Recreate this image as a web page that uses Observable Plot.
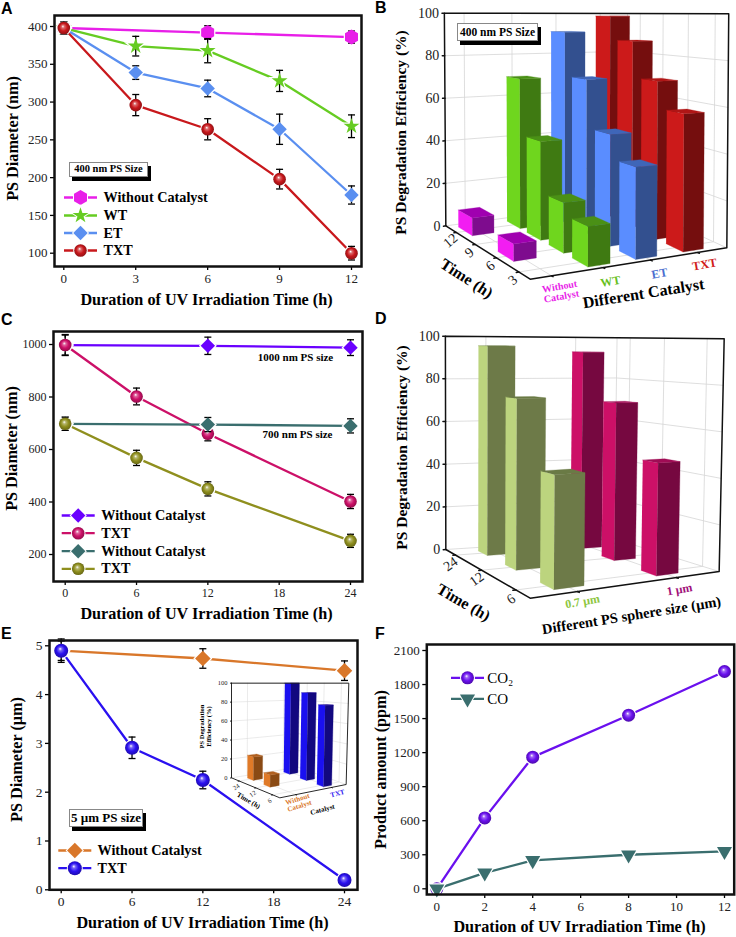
<!DOCTYPE html>
<html><head><meta charset="utf-8">
<script src="https://cdn.jsdelivr.net/npm/d3@7"></script>
<script src="https://cdn.jsdelivr.net/npm/@observablehq/plot@0.6"></script>
<style>
html,body{margin:0;padding:0;background:#fff}
#page{position:relative;width:736px;height:937px;overflow:hidden}
#page svg{position:absolute}
.tag{position:absolute;box-sizing:border-box;background:#fff;border:1px solid #888;color:#000;
 font-family:"Liberation Serif",serif;font-weight:bold;text-align:center;white-space:nowrap;box-shadow:3px 4px 0 #000}
</style></head><body><div id="page"></div>
<script>
// ---------- Panel A data ----------
const aTicksX=[0,3,6,9,12], aTicksY=[100,150,200,250,300,350,400];
const aHoursWithout=[0,6,12], aWithout=[398,392,386], aWithoutErr=[8,9,8];
const aHours=[0,3,6,9,12];
const aWT=[398,374,368,328,268], aWTErr=[8,13,16,14,15];
const aET=[398,339,318,264,177], aETErr=[8,9,11,20,12];
const aTXT=[398,296,264,198,100], aTXTErr=[8,14,14,13,9];
// ---------- Panel C data ----------
const cTicksX=[0,6,12,18,24], cTicksY=[200,400,600,800,1000];
const cHoursWithout=[0,12,24], cHoursTXT=[0,6,12,24];
const c1000Without=[998,995,988], c1000WithoutErr=[38,33,30];
const c1000TXT=[998,802,660,402], c1000TXTErr=[40,32,27,27];
const c700Without=[698,695,690], c700WithoutErr=[25,27,27];
const c700TXT=[698,568,450,252], c700TXTErr=[25,29,27,25];
// ---------- Panel E data ----------
const eTicksX=[0,6,12,18,24], eTicksY=[0,1,2,3,4,5];
const eHoursWithout=[0,12,24], eHoursTXT=[0,6,12,24];
const eWithout=[4.9,4.74,4.49], eWithoutErr=[0.2,0.2,0.2];
const eTXT=[4.9,2.91,2.25,0.2], eTXTErr=[0.24,0.22,0.18,0.1];
// ---------- Panel F data ----------
const fTicksX=[0,2,4,6,8,10,12], fTicksY=[0,300,600,900,1200,1500,1800,2100];
const fHours=[0,2,4,8,12];
const fCO2=[0,625,1160,1530,1915], fCO=[0,140,250,300,330];
// ---------- Panel B data ----------
const bCatalysts=["Without Catalyst","WT","ET","TXT"], bTimes=[3,6,9,12];
const bWithout=[null,7,null,8], bWT=[16,21,43.5,69.5], bET=[37.6,48,70,91], bTXT=[58,70,87,98.7];
// ---------- Panel D data ----------
const dSizes=["0.7 µm","1 µm"], dTimes=[6,12,24];
const d07=[45.5,73.6,95.7], d1=[47.5,70.7,93];
// ---------- Inset data ----------
const iCatalysts=["Without Catalyst","TXT"], iTimes=[6,12,24];
const iWithout=[null,11.6,24], iTXT=[78.6,90,100];
const pctTicks=[0,20,40,60,80,100];

const page=document.getElementById("page");
const serif='"Liberation Serif",serif', sans='"Liberation Sans",sans-serif';
const titleTime="Duration of UV Irradiation Time (h)";

// sphere gradients
const spheres={red:"#c8181c",pink:"#cc1068",olive:"#8f8f1e",blue:"#2a10f0",purple:"#6a10ee"};
const defsSvg=d3.create("svg").attr("width",0).attr("height",0);
const defs=defsSvg.append("defs");
for(const [k,c] of Object.entries(spheres)){
  const g=defs.append("radialGradient").attr("id","s-"+k).attr("cx",.5).attr("cy",.5).attr("r",.55).attr("fx",.42).attr("fy",.36);
  g.append("stop").attr("offset",0).attr("stop-color","#fff");
  g.append("stop").attr("offset",.22).attr("stop-color",d3.interpolateRgb(c,"#fff")(.35));
  g.append("stop").attr("offset",.55).attr("stop-color",c);
  g.append("stop").attr("offset",1).attr("stop-color",d3.rgb(c).darker(1.1).formatHex());
}
page.append(defsSvg.node());

const cap={draw(c){c.moveTo(-3.5,0);c.lineTo(3.5,0);}};
const dash={draw(c){c.moveTo(-16.5,0);c.lineTo(16.5,0);}};
const rows=(xs,ys,es)=>xs.map((x,i)=>({x,y:ys[i],e:es?es[i]:0}));
const sph=k=>({color:spheres[k],fill:`url(#s-${k})`,symbol:"circle",r:6.3});
const flat=(color,symbol,r,rotate)=>({color,fill:color,symbol,r,rotate});

function txtAt(ox,oy){
  return (s,px,py,o={})=>Plot.text([s],{frameAnchor:"top-left",dx:px-ox,dy:py-oy,lineAnchor:"middle",textAnchor:"middle",fontFamily:serif,fill:"#000",...o});
}
const dotOpts=s=>({symbol:s.symbol,r:s.r,rotate:s.rotate||0});

function linePanel({box,frame,xCal,yCal,xTicks,yTicks,series,legend,fontSize,extras,titles,legendFont}){
  const ml=frame.l-box.left, mt=frame.t-box.top, mr=box.left+box.width-frame.r, mb=box.top+box.height-frame.b;
  const sx=d3.scaleLinear([xCal[1],xCal[3]],[xCal[0],xCal[2]]);
  const sy=d3.scaleLinear([yCal[1],yCal[3]],[yCal[0],yCal[2]]);
  const ox=frame.l, oy=frame.t, T=txtAt(ox,oy);
  const marks=[];
  marks.push(Plot.axisX({ticks:xTicks,tickSize:4,tickPadding:3,label:null,tickFormat:d=>String(d),fontSize,fill:"#222",strokeWidth:1.3}));
  marks.push(Plot.axisY({ticks:yTicks,tickSize:4,tickPadding:3,label:null,tickFormat:d=>String(d),fontSize,fill:"#222",strokeWidth:1.3}));
  for(const s of series){
    marks.push(Plot.line(s.data,{x:"x",y:"y",stroke:s.style.color,strokeWidth:2.3}));
    marks.push(Plot.dot(s.data,{x:"x",y:"y",...dotOpts(s.style),fill:"#fff",stroke:"#fff",strokeWidth:2.5}));
    const err=s.data.filter(d=>d.e>0);
    marks.push(Plot.ruleX(err,{x:"x",y1:d=>d.y-d.e,y2:d=>d.y+d.e,stroke:"#000",strokeWidth:1.3}));
    marks.push(Plot.dot(err,{x:"x",y:d=>d.y-d.e,symbol:cap,r:1,stroke:"#000",strokeWidth:1.3,fill:"none"}));
    marks.push(Plot.dot(err,{x:"x",y:d=>d.y+d.e,symbol:cap,r:1,stroke:"#000",strokeWidth:1.3,fill:"none"}));
    marks.push(Plot.dot(s.data,{x:"x",y:"y",...dotOpts(s.style),fill:s.style.fill,stroke:"none"}));
  }
  for(const L of legend.rows){
    const anch={frameAnchor:"top-left",dx:legend.x-ox,dy:L.y-oy};
    marks.push(Plot.dot([0],{...anch,symbol:dash,r:1,stroke:L.style.color,strokeWidth:2.3,fill:"none"}));
    marks.push(Plot.dot([0],{...anch,...dotOpts(L.style),fill:"#fff",stroke:"#fff",strokeWidth:2}));
    marks.push(Plot.dot([0],{...anch,...dotOpts(L.style),fill:L.style.fill,stroke:"none"}));
    marks.push(T(L.name,legend.tx,L.y,{textAnchor:"start",fontWeight:legendFont?.weight||"bold",fontSize:legendFont?.size||14.2}));
  }
  marks.push(Plot.frame({stroke:"#111",strokeWidth:2.5}));
  for(const t of titles) marks.push(T(...t));
  for(const e of extras||[]) marks.push(T(...e));
  const svg=Plot.plot({width:box.width,height:box.height,marginLeft:ml,marginRight:mr,marginTop:mt,marginBottom:mb,
    x:{domain:[sx(frame.l),sx(frame.r)],axis:null},y:{domain:[sy(frame.b),sy(frame.t)],axis:null},
    style:{background:"transparent",overflow:"visible",fontFamily:serif,fontSize:fontSize+"px",color:"#000"},marks});
  svg.style.left=box.left+"px";svg.style.top=box.top+"px";
  page.append(svg);
}

function projection(view){
  const [F,R,B,L]=view.floor;
  const dx1=R[0]-B[0],dx2=L[0]-B[0],sx=F[0]-R[0]+B[0]-L[0],dy1=R[1]-B[1],dy2=L[1]-B[1],sy=F[1]-R[1]+B[1]-L[1];
  const den=dx1*dy2-dx2*dy1, g=(sx*dy2-dx2*sy)/den, h=(dx1*sy-sx*dy1)/den;
  const a=R[0]-F[0]+g*R[0],b=L[0]-F[0]+h*L[0],c=F[0],d=R[1]-F[1]+g*R[1],e=L[1]-F[1]+h*L[1],f=F[1];
  const [hx0,hy0,hx1,hy1]=view.horizon;
  return (u,w,v)=>{
    const q=g*u+h*w+1, x0=(a*u+b*w+c)/q, y0=(d*u+e*w+f)/q;
    const yt=hy0+(hy1-hy0)*(x0-hx0)/(hx1-hx0);
    return {x:x0+(x0-view.cx)*view.k*v/100,y:y0+(yt-y0)*v/100};
  };
}

function threeD({box,view,uC,wC,du,dw,series,times,fontSize,gridW,edgeW,timeRot,tickLen,labelOff,labelDx,labelDy,titles}){
  const P=projection(view), polys=[], grid=[], edges=[];
  const add=(arr,id,pts,extra={})=>pts.forEach(p=>arr.push({id,...P(...p),...extra}));
  series.map((s,i)=>[s,i]).reverse().forEach(([s,i])=>{
    const idx=d3.range(times.length).reverse();
    idx.forEach(j=>{
      const v=s.values[j]; if(v==null) return;
      const dws=s.dw||dw;
      const u0=uC[i]-du/2,u1=uC[i]+du/2,w0=wC[j]-dws/2,w1=wC[j]+dws/2;
      add(polys,`${i}-${j}-side`,[[u0,w1,0],[u0,w0,0],[u0,w0,v],[u0,w1,v]],{c:s.light});
      add(polys,`${i}-${j}-front`,[[u0,w0,0],[u1,w0,0],[u1,w0,v],[u0,w0,v]],{c:s.dark});
      add(polys,`${i}-${j}-top`,[[u0,w0,v],[u1,w0,v],[u1,w1,v],[u0,w1,v]],{c:s.top});
    });
  });
  pctTicks.slice(1).forEach(v=>{
    add(grid,"wb"+v,[[0,1,v],[1,1,v],[1,0,v]]);
  });
  uC.forEach((u,i)=>{add(grid,"fu"+i,[[u,0,0],[u,1,0],[u,1,100]]);});
  wC.forEach((w,i)=>{add(grid,"fw"+i,[[0,w,0],[1,w,0],[1,w,100]]);});
  add(grid,"back",[[1,1,0],[1,1,100]]);
  add(grid,"bf",[[0,1,0],[1,1,0],[1,0,0]]);
  add(edges,"e1",[[0,1,100],[0,1,0],[0,0,0],[1,0,0],[1,0,100],[1,1,100],[0,1,100]]);
  pctTicks.forEach(v=>add(edges,"tv"+v,[[0,1,v],[-tickLen,1,v]]));
  uC.forEach((u,i)=>add(edges,"tu"+i,[[u,0,0],[u,-tickLen*1.3,0]]));
  wC.forEach((w,i)=>add(edges,"tw"+i,[[0,w,0],[-tickLen,w,0]]));
  const T=txtAt(0,0);
  const plotMarks=[
    Plot.line(grid,{x:"x",y:"y",z:"id",stroke:"#d6d6d6",strokeWidth:gridW}),
    Plot.line(polys,{x:"x",y:"y",z:"id",fill:"c",stroke:"c",strokeWidth:.3}),
    Plot.line(edges,{x:"x",y:"y",z:"id",stroke:"#111",strokeWidth:edgeW}),
    Plot.text(pctTicks,{x:v=>P(-tickLen,1,v).x,y:v=>P(-tickLen,1,v).y,text:v=>v,textAnchor:"end",dx:-3,fontFamily:serif,fontSize,fill:"#222"}),
    Plot.text(times,{x:(t,i)=>P(-labelOff,wC[i],0).x,y:(t,i)=>P(-labelOff,wC[i],0).y,text:t=>t,rotate:timeRot,dx:labelDx,dy:labelDy,fontFamily:serif,fontSize,fill:"#222"}),
    ...titles.map(t=>T(...t))
  ];
  const svg=Plot.plot({width:box.width,height:box.height,margin:0,
    x:{domain:[0,box.width*3],range:[0,box.width],axis:null},y:{domain:[0,box.height*3],range:[0,box.height],axis:null},
    style:{background:"transparent",overflow:"visible",fontFamily:serif,fontSize:fontSize+"px"},marks:plotMarks});
  svg.style.left=box.left+"px";svg.style.top=box.top+"px";
  page.append(svg);
}

function tag(text,left,top,w,h,fs){
  const d=document.createElement("div");d.className="tag";d.textContent=text;
  Object.assign(d.style,{left:left+"px",top:top+"px",width:w+"px",height:h+"px",lineHeight:(h-2)+"px",fontSize:fs+"px"});
  page.append(d);
}
function letter(s,x,y){
  const d=document.createElement("div");d.textContent=s;
  Object.assign(d.style,{position:"absolute",left:x+"px",top:y+"px",font:`bold 16px ${sans}`,lineHeight:"16px",color:"#000"});
  page.append(d);
}
const bold={fontWeight:"bold"};
const T1=16.2;

// ---- A ----
const aS={w:flat("#e81fe8","hexagon",6.5),wt:flat("#66cc22","star",5),et:flat("#5a8ff0","diamond2",6.5),txt:sph("red")};
linePanel({box:{left:0,top:0,width:368,height:305},frame:{l:54,t:15,r:361,b:266},xCal:[0,63.3,12,351],yCal:[400,26,100,252.7],
  xTicks:aTicksX,yTicks:aTicksY,fontSize:13,
  series:[{data:rows(aHoursWithout,aWithout,aWithoutErr),style:aS.w},{data:rows(aHours,aWT,aWTErr),style:aS.wt},{data:rows(aHours,aET,aETErr),style:aS.et},{data:rows(aHours,aTXT,aTXTErr),style:aS.txt}],
  legend:{x:80,tx:103,rows:[{name:"Without Catalyst",style:aS.w,y:197},{name:"WT",style:aS.wt,y:215},{name:"ET",style:aS.et,y:232.5},{name:"TXT",style:aS.txt,y:250}]},
  titles:[[titleTime,206,299,{...bold,fontSize:T1}],["PS Diameter (nm)",12,138,{...bold,fontSize:T1,rotate:-90}]]});
// ---- C ----
const cS={a:flat("#6a00ff","diamond2",6.5),b:sph("pink"),c:flat("#3a6e6e","diamond2",6.5),d:sph("olive")};
linePanel({box:{left:0,top:305,width:368,height:315},frame:{l:53,t:331,r:362,b:581},xCal:[0,64.7,24,350],yCal:[1000,344,200,554],
  xTicks:cTicksX,yTicks:cTicksY,fontSize:12,
  series:[{data:rows(cHoursWithout,c1000Without,c1000WithoutErr),style:cS.a},{data:rows(cHoursTXT,c1000TXT,c1000TXTErr),style:cS.b},{data:rows(cHoursWithout,c700Without,c700WithoutErr),style:cS.c},{data:rows(cHoursTXT,c700TXT,c700TXTErr),style:cS.d}],
  legend:{x:77.7,tx:100.7,rows:[{name:"Without Catalyst",style:cS.a,y:515},{name:"TXT",style:cS.b,y:532.7},{name:"Without Catalyst",style:cS.c,y:550.7},{name:"TXT",style:cS.d,y:568.3}]},
  titles:[[titleTime,206,613,{...bold,fontSize:T1}],["PS Diameter (nm)",11,448,{...bold,fontSize:T1,rotate:-90}]],
  extras:[["1000 nm PS size",295,357,{...bold,fontSize:11}],["700 nm PS size",297,434,{...bold,fontSize:11}]]});
// ---- E ----
const eS={a:flat("#d9772a","diamond2",7),b:{...sph("blue"),r:7}};
linePanel({box:{left:0,top:620,width:368,height:317},frame:{l:49,t:640,r:357,b:889.3},xCal:[0,60.7,24,344],yCal:[5,645.3,0,889.3],
  xTicks:eTicksX,yTicks:eTicksY,fontSize:13.5,
  series:[{data:rows(eHoursWithout,eWithout,eWithoutErr),style:eS.a},{data:rows(eHoursTXT,eTXT,eTXTErr),style:eS.b}],
  legend:{x:74.3,tx:97,rows:[{name:"Without Catalyst",style:eS.a,y:850},{name:"TXT",style:eS.b,y:867.7}]},
  titles:[[titleTime,202,922.7,{...bold,fontSize:T1}],["PS Diameter (µm)",16,759,{...bold,fontSize:T1,rotate:-90}]]});
// ---- F ----
const fS={a:{...sph("purple"),r:6.5},b:flat("#3a6e6e","triangle",5.6,180)};
linePanel({box:{left:368,top:620,width:368,height:317},frame:{l:426.3,t:644,r:733.7,b:894},xCal:[0,436.3,12,724],yCal:[2100,650,0,888.3],
  xTicks:fTicksX,yTicks:fTicksY,fontSize:13,legendFont:{weight:"normal",size:15},
  series:[{data:rows(fHours,fCO2),style:fS.a},{data:rows(fHours,fCO),style:fS.b}],
  legend:{x:467,tx:486.7,rows:[{name:"CO₂",style:fS.a,y:677.3},{name:"CO",style:fS.b,y:698.3}]},
  titles:[[titleTime,579,926.7,{...bold,fontSize:T1}],["Product amount (ppm)",380,769,{...bold,fontSize:T1,rotate:-90}]]});
// ---- B ----
threeD({box:{left:368,top:0,width:368,height:305},
  view:{floor:[[485,836],[1075,742],[775,605],[232,676]],horizon:[230,38,1083,40],cx:600,k:.012},
  uC:[.10,.35,.59,.84],wC:[.12,.37,.62,.86],du:.11,dw:.16,times:bTimes,fontSize:14,gridW:.8,edgeW:1.5,timeRot:-40,tickLen:.012,labelOff:0,labelDx:-6,labelDy:8,
  series:[
    {values:bWithout,light:"#f21df2",dark:"#7e0c8e",top:"#a000b0",dw:.18},
    {values:bWT,light:"#6fd61e",dark:"#3f7a12",top:"#4a9016"},
    {values:bET,light:"#5a8dff",dark:"#33508f",top:"#3f66b8"},
    {values:bTXT,light:"#cc1a1a",dark:"#750e0e",top:"#b01616"}],
  titles:[
    ["PS Degradation Efficiency (%)",33,132,{...bold,fontSize:15.5,rotate:-90}],
    ["Time (h)",98,278,{...bold,fontSize:16,rotate:33}],
    ["Different Catalyst",275,293,{...bold,fontSize:16,rotate:-9}],
    ["Without\nCatalyst",192,291,{...bold,fontSize:10,rotate:-10,fill:"#e81fe8"}],
    ["WT",242,281,{...bold,fontSize:12,rotate:-10,fill:"#66c020"}],
    ["ET",291,273,{...bold,fontSize:12,rotate:-10,fill:"#4a6fd0"}],
    ["TXT",336,264,{...bold,fontSize:12,rotate:-10,fill:"#d11a1a"}]]});
tag("400 nm PS Size",457,23,81,18,11.5);
// ---- D ----
threeD({box:{left:368,top:305,width:368,height:315},
  view:{floor:[[485,878],[1052,798],[737,700],[232,732]],horizon:[232,92,1072,100],cx:300,k:.02},
  uC:[.195,.712],wC:[.13,.5,.85],du:.135,dw:.125,times:dTimes,fontSize:14,gridW:.8,edgeW:1.5,timeRot:-35,tickLen:.012,labelOff:0,labelDx:-5,labelDy:9,
  series:[
    {values:d07,light:"#bcd47e",dark:"#6d7a48",top:"#6a7a45"},
    {values:d1,light:"#cc1067",dark:"#760840",top:"#a00c55"}],
  titles:[
    ["PS Degradation Efficiency (%)",34,142,{...bold,fontSize:15.5,rotate:-90}],
    ["Time (h)",95,297,{...bold,fontSize:16,rotate:30}],
    ["Different PS sphere size (µm)",263,310,{...bold,fontSize:14.5,rotate:-9}],
    ["0.7 µm",214,296,{...bold,fontSize:12,rotate:-10,fill:"#8dc63f"}],
    ["1 µm",311,284,{...bold,fontSize:12,rotate:-10,fill:"#a0107a"}]]});
// ---- E inset ----
threeD({box:{left:0,top:620,width:368,height:317},
  view:{floor:[[838,532],[1037,492],[892,440],[693,472]],horizon:[693,188,1045,188],cx:693,k:.023},
  uC:[.22,.76],wC:[.14,.48,.83],du:.13,dw:.13,times:iTimes,fontSize:6.5,gridW:.5,edgeW:.9,timeRot:-35,tickLen:.015,labelOff:0,labelDx:-3,labelDy:6,
  series:[
    {values:iWithout,light:"#e07a28",dark:"#8a4a14",top:"#b06020"},
    {values:iTXT,light:"#1a10f0",dark:"#12087f",top:"#150090"}],
  titles:[
    ["PS Degradation\nEfficiency (%)",205,106,{...bold,fontSize:6.5,rotate:-90}],
    ["Time (h)",248,180,{...bold,fontSize:7,rotate:30}],
    ["Without\nCatalyst",298,182,{...bold,fontSize:7,rotate:-17,fill:"#d9772a"}],
    ["TXT",337,173,{...bold,fontSize:7,rotate:-15,fill:"#2a10f0"}],
    ["Catalyst",322,189,{...bold,fontSize:7,rotate:-15}]]});
tag("5 µm PS size",69,809,74,18,13);
tag("400 nm PS Size",69,162,79,14.5,10.5);
letter("A",1,1);letter("B",375,0);letter("C",1,312);letter("D",375,311);letter("E",1,626);letter("F",375,626);
</script></body></html>
